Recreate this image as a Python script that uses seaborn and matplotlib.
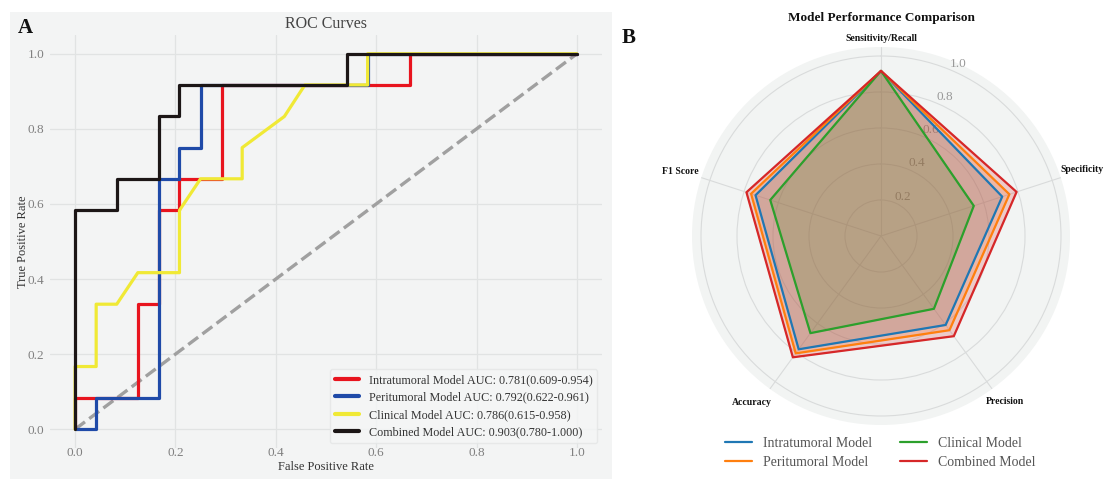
import numpy as np
import pandas as pd
import matplotlib
matplotlib.use("Agg")
import matplotlib.pyplot as plt
from matplotlib.patches import Rectangle
import seaborn as sns

# ---------------- data ----------------
roc_models = ["Intratumoral Model", "Peritumoral Model", "Clinical Model", "Combined Model"]
roc_auc = ["0.781(0.609-0.954)", "0.792(0.622-0.961)", "0.786(0.615-0.958)", "0.903(0.780-1.000)"]

intra_fpr = [0.0, 0.0, 0.125, 0.125, 0.167, 0.167, 0.208, 0.208, 0.292, 0.292, 0.667, 0.667, 1.0]
intra_tpr = [0.0, 0.083, 0.083, 0.333, 0.333, 0.583, 0.583, 0.667, 0.667, 0.917, 0.917, 1.0, 1.0]

peri_fpr = [0.0, 0.042, 0.042, 0.167, 0.167, 0.208, 0.208, 0.25, 0.25, 0.583, 0.583, 1.0]
peri_tpr = [0.0, 0.0, 0.083, 0.083, 0.667, 0.667, 0.75, 0.75, 0.917, 0.917, 1.0, 1.0]

clin_fpr = [0.0, 0.0, 0.042, 0.042, 0.083, 0.125, 0.208, 0.208, 0.25, 0.333, 0.333, 0.417, 0.458, 0.583, 0.583, 1.0]
clin_tpr = [0.0, 0.167, 0.167, 0.333, 0.333, 0.417, 0.417, 0.583, 0.667, 0.667, 0.75, 0.833, 0.917, 0.917, 1.0, 1.0]

comb_fpr = [0.0, 0.0, 0.083, 0.083, 0.167, 0.167, 0.208, 0.208, 0.542, 0.542, 1.0]
comb_tpr = [0.0, 0.583, 0.583, 0.667, 0.667, 0.833, 0.833, 0.917, 0.917, 1.0, 1.0]

roc_colors = ["#e8141e", "#1f4aa8", "#f0e935", "#1c1616"]

radar_metrics = ["Sensitivity/Recall", "Specificity", "Precision", "Accuracy", "F1 Score"]
radar_intra = [0.917, 0.708, 0.611, 0.778, 0.733]
radar_peri = [0.917, 0.750, 0.647, 0.806, 0.759]
radar_clin = [0.917, 0.542, 0.500, 0.667, 0.647]
radar_comb = [0.917, 0.792, 0.688, 0.833, 0.786]
radar_colors = ["#1f77b4", "#ff7f0e", "#2ca02c", "#d62728"]
radar_ticks = [0.2, 0.4, 0.6, 0.8, 1.0]
roc_ticks = [0.0, 0.2, 0.4, 0.6, 0.8, 1.0]

# placement of the radar category labels (angle in degrees, radius in data units)
label_pos = [(0.0, 1.095), (71.6, 1.177), (143.2, 1.15), (217.8, 1.17), (287.9, 1.17)]

# ---------------- style ----------------
sns.set_theme(style="whitegrid")
plt.rcParams["font.family"] = ["Liberation Serif", "DejaVu Serif"]
plt.rcParams["axes.axisbelow"] = True

PANEL_BG = "#f3f4f4"
fig = plt.figure(figsize=(11.08, 4.79), dpi=100)
W, H = 1108, 479

fig.patches.append(Rectangle((10 / W, 0.0), (612 - 10) / W, (479 - 12) / H,
                             transform=fig.transFigure, facecolor=PANEL_BG,
                             edgecolor="none", zorder=-10))

# ---------------- ROC panel ----------------
ax = fig.add_axes([50 / W, (479 - 448) / H, 552 / W, 413 / H])
ax.set_facecolor(PANEL_BG)
for s in ax.spines.values():
    s.set_visible(False)

curves = [(intra_fpr, intra_tpr), (peri_fpr, peri_tpr), (clin_fpr, clin_tpr), (comb_fpr, comb_tpr)]
for (fx, ty), name, auc, col in zip(curves, roc_models, roc_auc, roc_colors):
    df = pd.DataFrame({"fpr": fx, "tpr": ty})
    sns.lineplot(data=df, x="fpr", y="tpr", sort=False, estimator=None, ax=ax,
                 color=col, linewidth=2.3, label=f"{name} AUC: {auc}")
ax.plot([0, 1], [0, 1], linestyle="--", color="#a0a0a0", linewidth=2.4, zorder=1.5)

ax.set_xlim(-0.05, 1.05)
ax.set_ylim(-0.05, 1.05)
ax.set_xticks(roc_ticks)
ax.set_yticks(roc_ticks)
ax.set_xticklabels([f"{t:.1f}" for t in roc_ticks])
ax.set_yticklabels([f"{t:.1f}" for t in roc_ticks])
ax.tick_params(axis="both", labelsize=9.5, colors="#808080", length=0)
ax.tick_params(axis="x", pad=-1)
ax.tick_params(axis="y", pad=4)
ax.grid(True, color="#e1e3e3", linewidth=0.9)
ax.set_xlabel("False Positive Rate", fontsize=9, color="#333333", labelpad=1.5)
ax.set_ylabel("True Positive Rate", fontsize=9, color="#333333", labelpad=-1)
ax.set_title("ROC Curves", fontsize=11.5, color="#444444", pad=5)
leg = ax.legend(loc="lower right", fontsize=8.7, frameon=True, handlelength=2.0,
                borderaxespad=0.4, labelspacing=0.45)
leg.get_frame().set_facecolor("#f5f6f6")
leg.get_frame().set_edgecolor("#e4e6e6")
for t in leg.get_texts():
    t.set_color("#333333")
for l in leg.get_lines():
    l.set_linewidth(3)

fig.text(18 / W, 1 - 28 / H, "A", fontsize=15, fontweight="bold", va="center", ha="left", color="#111111")
fig.text(622 / W, 1 - 38 / H, "B", fontsize=15, fontweight="bold", va="center", ha="left", color="#111111")

# ---------------- Radar panel ----------------
cx, cy, R = 881, 236, 189
pax = fig.add_axes([(cx - R) / W, (479 - cy - R) / H, 2 * R / W, 2 * R / H], projection="polar")
pax.set_facecolor("#f2f4f3")
pax.spines["polar"].set_visible(False)
pax.set_theta_offset(np.pi / 2)
pax.set_theta_direction(-1)

angles = np.linspace(0, 2 * np.pi, len(radar_metrics), endpoint=False)
ang_closed = np.concatenate([angles, angles[:1]])
series = [radar_intra, radar_peri, radar_clin, radar_comb]
names = ["Intratumoral Model", "Peritumoral Model", "Clinical Model", "Combined Model"]
for vals, name, col in zip(series, names, radar_colors):
    v = np.concatenate([vals, vals[:1]])
    pax.plot(ang_closed, v, color=col, linewidth=1.6, label=name, zorder=3)
    pax.fill(ang_closed, v, color=col, alpha=0.2, zorder=2)

pax.set_ylim(0, 1.05)
pax.set_yticks(radar_ticks)
pax.set_yticklabels([f"{t:.1f}" for t in radar_ticks], fontsize=9.5, color="#999999")
pax.set_rlabel_position(22.5)
pax.set_xticks(angles)
pax.set_xticklabels([])
for name, (deg, r) in zip(radar_metrics, label_pos):
    pax.text(np.deg2rad(deg), r, name, fontsize=7, fontweight="bold", color="#111111",
             ha="center", va="center", clip_on=False)
pax.grid(True, color="#d9dbdb", linewidth=0.8)

fig.text(cx / W, 1 - 18 / H, "Model Performance Comparison", fontsize=9.5,
         fontweight="bold", color="#111111", ha="center", va="center")

handles, labels = pax.get_legend_handles_labels()
fig.legend(handles, labels, loc="center", bbox_to_anchor=(880 / W, 1 - 453 / H), ncol=2,
           frameon=False, fontsize=10, handlelength=1.95, columnspacing=2.0,
           labelspacing=0.4, labelcolor="#555555")

fig.savefig("out.png", dpi=100, facecolor="white")
